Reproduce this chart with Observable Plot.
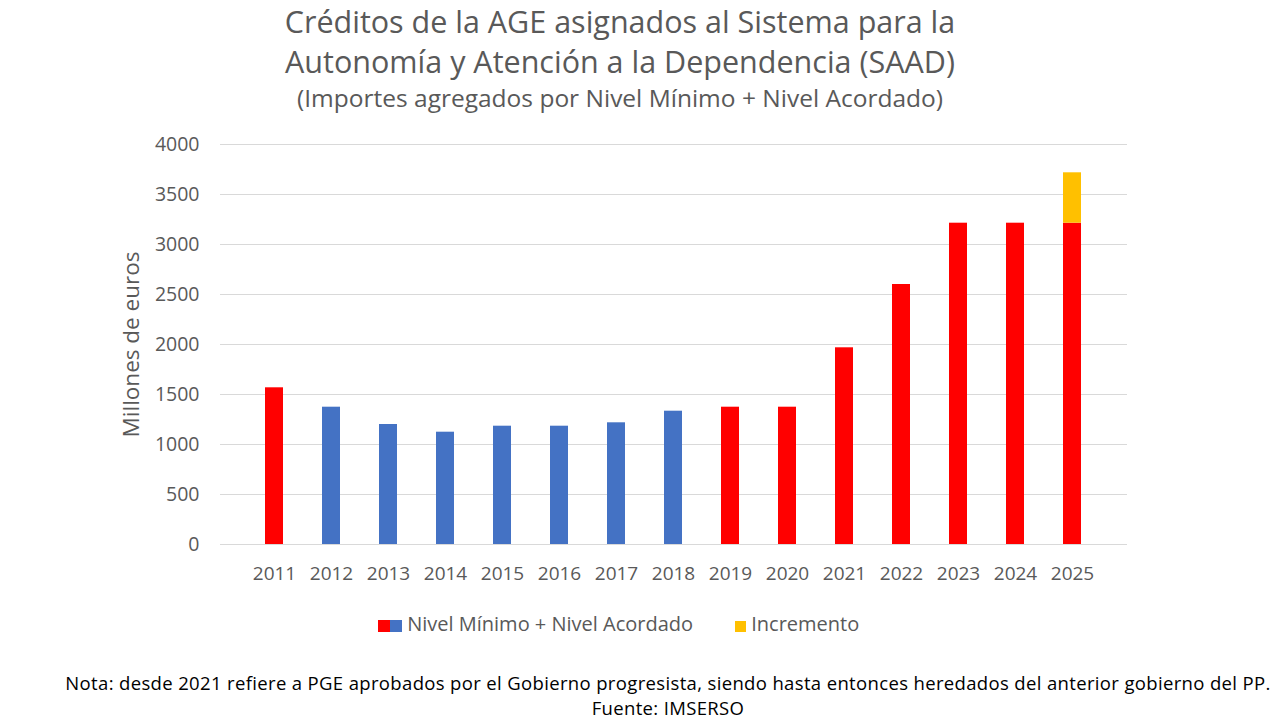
<!DOCTYPE html>
<html>
<head>
<meta charset="utf-8">
<script src="https://cdn.jsdelivr.net/npm/d3@7"></script>
<script src="https://cdn.jsdelivr.net/npm/@observablehq/plot@0.6"></script>
<style>
  html, body { margin: 0; padding: 0; background: #fff; }
  body { width: 1280px; height: 720px; position: relative; overflow: hidden; font-family: "Open Sans", sans-serif; }
  .t { position: absolute; left: 0; width: 1240px; text-align: center; color: #595959; white-space: nowrap; line-height: normal; }
  #chart { position: absolute; left: 0; top: 120px; }
  #legend { position: absolute; top: 611px; left: 0; width: 1280px; font-size: 20px; color: #595959; white-space: nowrap; line-height: 26px; }
  .sw { display: inline-block; width: 11px; height: 11px; vertical-align: -1px; }
  .note { position: absolute; left: 0; width: 1336px; text-align: center; color: #000; font-size: 18.5px; letter-spacing: 0.35px; white-space: nowrap; line-height: 1; }
</style>
</head>
<body>
<div class="t" style="top:0px;font-size:30.5px;">Créditos de la AGE asignados al Sistema para la</div>
<div class="t" style="top:40px;font-size:30.5px;">Autonomía y Atención a la Dependencia (SAAD)</div>
<div class="t" style="top:81px;font-size:24.5px;">(Importes agregados por Nivel Mínimo + Nivel Acordado)</div>
<div id="chart"></div>
<div id="legend"></div>
<div class="note" style="top:674px;">Nota: desde 2021 refiere a PGE aprobados por el Gobierno progresista, siendo hasta entonces heredados del anterior gobierno del PP.</div>
<div class="note" style="top:699px;">Fuente: IMSERSO</div>
<script>
const years = ["2011","2012","2013","2014","2015","2016","2017","2018","2019","2020","2021","2022","2023","2024","2025"];
const nivel = [1567, 1373, 1200, 1123, 1183, 1183, 1217, 1333, 1373, 1373, 1967, 2600, 3213, 3213, 3213];
const incremento = [0, 0, 0, 0, 0, 0, 0, 0, 0, 0, 0, 0, 0, 0, 504];
const gobierno = ["PSOE","PP","PP","PP","PP","PP","PP","PP","PSOE","PSOE","PSOE","PSOE","PSOE","PSOE","PSOE"];
const yTicks = [0, 500, 1000, 1500, 2000, 2500, 3000, 3500, 4000];
const colorDomain = ["PSOE", "PP", "Incremento"];
const colorRange = ["#FF0000", "#4472C4", "#FFC000"];
const legendLabels = ["Nivel Mínimo + Nivel Acordado", "Incremento"];

const rows = [];
years.forEach((y, i) => {
  rows.push({year: y, value: nivel[i], grupo: gobierno[i], orden: 0});
  if (incremento[i] > 0) rows.push({year: y, value: incremento[i], grupo: "Incremento", orden: 1});
});

const chart = Plot.plot({
  width: 1280,
  height: 480,
  marginLeft: 220,
  marginRight: 153,
  marginTop: 24,
  marginBottom: 56,
  style: {fontFamily: "Open Sans, sans-serif", fontSize: "19px", color: "#595959", background: "#fff"},
  x: {domain: years, padding: 0.68, label: null},
  y: {domain: [0, 4000], label: null},
  color: {domain: colorDomain, range: colorRange},
  marks: [
    Plot.gridY(yTicks, {stroke: "#D9D9D9", strokeOpacity: 1, strokeWidth: 1.2}),
    Plot.barY(rows, {x: "year", y: "value", fill: "grupo", order: "orden"}),
    Plot.axisY(yTicks, {tickSize: 0, tickPadding: 21, label: null, fill: "#595959", fontSize: 19.5, tickFormat: d => String(d)}),
    Plot.axisX({tickSize: 0, tickPadding: 22, label: null, fill: "#595959", fontSize: 19}),
    Plot.text(["Millones de euros"], {frameAnchor: "left", textAnchor: "middle", dx: -89, rotate: -90, fill: "#595959", fontSize: 22.5})
  ]
});
document.getElementById("chart").appendChild(chart);

const legend = document.getElementById("legend");
legend.innerHTML =
  `<span style="position:absolute;left:378px;top:0;"><span class="sw" style="background:${colorRange[0]};width:12px;height:12px"></span><span class="sw" style="background:${colorRange[1]};width:12px;height:12px"></span> ${legendLabels[0]}</span>` +
  `<span style="position:absolute;left:735px;top:0;"><span class="sw" style="background:${colorRange[2]}"></span> ${legendLabels[1]}</span>`;
</script>
</body>
</html>
